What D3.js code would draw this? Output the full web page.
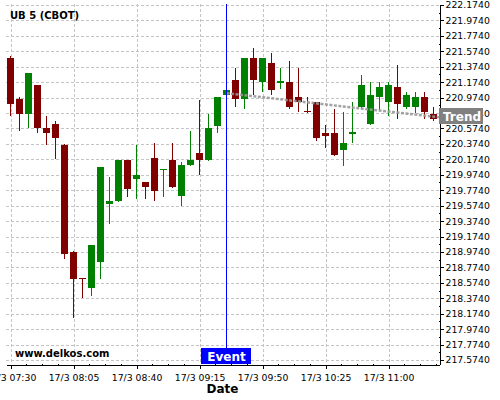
<!DOCTYPE html>
<html><head><meta charset="utf-8">
<script src="https://cdn.jsdelivr.net/npm/d3@7"></script>
<style>body{margin:0;background:#fff}svg{display:block}text{font-family:"DejaVu Sans",sans-serif}</style>
</head><body><svg id="c" width="500" height="400"></svg>
<script>
const title = "UB 5 (CBOT)";
const watermark = "www.delkos.com";
const day = "17/3";
const times = ["07:30","07:35","07:40","07:45","07:50","07:55","08:00","08:05","08:10","08:15","08:20","08:25",
  "08:30","08:35","08:40","08:45","08:50","08:55","09:00","09:05","09:10","09:15","09:20","09:25",
  "09:30","09:35","09:40","09:45","09:50","09:55","10:00","10:05","10:10","10:15","10:20","10:25",
  "10:30","10:35","10:40","10:45","10:50","10:55","11:00","11:05","11:10","11:15","11:20","11:25"];
const opens = [221.487,220.956,220.766,221.137,220.576,220.632,220.360,218.973,218.633,218.511,218.848,219.595,
  219.634,220.166,219.919,219.880,220.191,220.036,220.166,219.703,220.105,220.256,220.169,220.610,
  221.012,221.202,220.960,221.487,221.180,221.422,221.176,221.176,220.982,220.800,220.917,220.515,
  220.515,220.299,220.519,220.852,220.632,220.982,220.917,221.111,220.852,220.852,220.982,220.762];
const highs = [221.513,220.982,221.293,221.137,220.732,220.667,220.377,218.990,218.637,219.064,220.075,219.941,
  220.166,220.166,220.356,219.880,220.382,220.045,220.382,220.136,220.537,220.947,220.758,220.982,
  221.073,221.354,221.487,221.613,221.487,221.548,221.354,221.444,221.354,220.978,220.917,220.623,
  220.823,220.784,220.913,221.267,221.176,221.176,221.176,221.397,221.047,221.047,221.047,220.852];
const lows = [220.736,220.541,220.576,220.515,220.356,220.182,218.879,218.114,218.373,218.403,218.620,219.340,
  219.621,219.690,219.656,219.656,219.630,219.690,219.807,219.566,220.092,219.971,220.156,220.515,
  221.012,220.848,220.823,221.008,221.043,221.008,221.086,220.823,220.784,220.778,220.408,220.317,
  220.217,220.092,220.382,220.823,220.619,220.813,220.736,220.697,220.826,220.775,220.697,220.671];
const closes = [220.895,220.766,221.293,220.584,220.519,220.454,218.951,218.627,218.627,219.064,220.075,219.634,
  220.166,219.790,219.971,219.820,219.768,220.045,219.820,220.101,220.166,220.169,220.580,220.982,
  221.073,220.960,221.487,221.206,221.487,221.077,221.185,220.856,220.921,220.797,220.454,220.480,
  220.230,220.382,220.524,221.137,221.008,221.111,221.137,220.891,221.008,220.982,220.788,220.697];
const xTicks = ["07:30","08:05","08:40","09:15","09:50","10:25","11:00"];
const yTicks = [217.574,217.774,217.974,218.174,218.374,218.574,218.774,218.974,219.174,219.374,219.574,219.774,
  219.974,220.174,220.374,220.574,220.774,220.974,221.174,221.374,221.574,221.774,221.974,222.174];
const eventTime = "09:30";
const eventLabel = "Event";
const trendStart = ["09:30", 221.031];
const trendEnd = ["11:28", 220.719];
const trendLabel = "Trend";
const xTitle = "Date";
const xDomain = ["07:27:30", "11:28:00"];
const yDomain = [217.522, 222.187];

const parse = d3.timeParse("%Y-%m-%d %H:%M:%S");
const T = s => parse("2016-03-17 " + (s.length === 5 ? s + ":00" : s));

const L = 6, R = 439, TOP = 4, B = 364;
const svg = d3.select("#c");
svg.append("rect").attr("width",500).attr("height",400).attr("fill","#fff");

const x = d3.scaleTime().domain(xDomain.map(T)).range([L, R]);
const y = d3.scaleLinear().domain(yDomain).range([B, TOP]);

// grid
const grid = svg.append("g").attr("stroke","#c4c4c4").attr("stroke-dasharray","3,2").attr("shape-rendering","crispEdges");
grid.selectAll(".h").data(yTicks).join("line")
  .attr("x1",L).attr("x2",R).attr("y1",d=>Math.round(y(d))+0.5).attr("y2",d=>Math.round(y(d))+0.5);
grid.selectAll(".v").data(xTicks).join("line")
  .attr("y1",TOP).attr("y2",B).attr("x1",d=>Math.round(x(T(d)))+0.5).attr("x2",d=>Math.round(x(T(d)))+0.5);

// candles
const data = times.map((t,i)=>({t:T(t),o:opens[i],h:highs[i],l:lows[i],c:closes[i]}));
const cg = svg.append("g").attr("shape-rendering","crispEdges");
const col = d => d.c >= d.o ? "#008000" : "#800000";
cg.selectAll(".w").data(data).join("line")
  .attr("x1",d=>Math.floor(x(d.t))+0.5).attr("x2",d=>Math.floor(x(d.t))+0.5)
  .attr("y1",d=>y(d.h)).attr("y2",d=>y(d.l)).attr("stroke",col).attr("stroke-width",1);
cg.selectAll(".b").data(data).join("rect")
  .attr("x",d=>Math.floor(x(d.t))-3).attr("width",7)
  .attr("y",d=>y(Math.max(d.o,d.c)))
  .attr("height",d=>Math.max(1.2, Math.abs(y(d.o)-y(d.c))))
  .attr("fill",col);

// trend line
svg.append("line")
  .attr("x1",x(T(trendStart[0]))).attr("y1",y(trendStart[1]))
  .attr("x2",x(T(trendEnd[0]))).attr("y2",y(trendEnd[1]))
  .attr("stroke","#9a9a9a").attr("stroke-width",2.5).attr("stroke-dasharray","3,1.5").attr("opacity",0.9);

// event line
const ex = Math.floor(x(T(eventTime)))+0.5;
svg.append("line").attr("x1",ex).attr("x2",ex).attr("y1",TOP).attr("y2",348)
  .attr("stroke","#0000ff").attr("stroke-width",1).attr("shape-rendering","crispEdges");

// axes
const yMinor = [];
yTicks.forEach(v=>{ yMinor.push(v+0.1); });
const yAxisMinor = d3.axisRight(y).tickValues(yMinor.filter(v=>v<yDomain[1])).tickSize(2).tickSizeOuter(0).tickFormat("");
svg.append("g").attr("transform",`translate(${R},0)`).call(yAxisMinor).call(g=>g.select(".domain").remove())
  .attr("shape-rendering","crispEdges");
const yAxis = d3.axisRight(y).tickValues(yTicks).tickSize(4).tickPadding(2).tickSizeOuter(0).tickFormat(d3.format(".4f"));
const ya = svg.append("g").attr("transform",`translate(${R+0.5},0)`).call(yAxis).attr("shape-rendering","crispEdges");
ya.selectAll("text").attr("font-size","9.3px").attr("font-family","DejaVu Sans").attr("fill","#000");
ya.selectAll("line").attr("stroke","#000");
ya.select(".domain").attr("stroke","#000");

const xMajor = xTicks.map(T);
const xMinor = [];
const step = 35*60000/4;
xMajor.forEach(t=>{ for(let k=1;k<4;k++){ const m=new Date(+t+k*step); if(m<=x.domain()[1]) xMinor.push(m);} });
svg.append("g").attr("transform",`translate(0,${B})`)
  .call(d3.axisBottom(x).tickValues(xMinor).tickSize(2).tickSizeOuter(0).tickFormat(""))
  .call(g=>g.select(".domain").remove()).attr("shape-rendering","crispEdges");
const xAxis = d3.axisBottom(x).tickValues(xMajor).tickSize(4).tickSizeOuter(0)
  .tickFormat((d,i)=>day+" "+xTicks[i]);
const xa = svg.append("g").attr("transform",`translate(0,${B+0.5})`).call(xAxis).attr("shape-rendering","crispEdges");
xa.selectAll("text").attr("font-size","9.3px").attr("font-family","DejaVu Sans").attr("fill","#000")
  .attr("dy",null).attr("y",16);
xa.selectAll("line").attr("stroke","#000");
xa.select(".domain").attr("stroke","#000");

// trend label
const ty = y(trendEnd[1]);
svg.append("rect").attr("x",R).attr("y",Math.round(ty-9)).attr("width",44).attr("height",16).attr("fill","#808080");
svg.append("text").attr("x",R+4).attr("y",Math.round(ty-9)+12.5).attr("fill","#fff")
  .attr("font-size","12px").attr("font-weight","bold").text(trendLabel);

// event label
svg.append("rect").attr("x",ex-25.5).attr("y",348).attr("width",50).attr("height",16).attr("fill","#0000ff");
svg.append("text").attr("x",ex).attr("y",361).attr("text-anchor","middle").attr("fill","#fff")
  .attr("font-size","12px").attr("font-weight","bold").text(eventLabel);

// texts
svg.append("text").attr("x",10).attr("y",19).attr("font-size","10px").attr("font-weight","bold").text(title);
svg.append("text").attr("x",15).attr("y",356.5).attr("font-size","10px").attr("font-weight","bold").text(watermark);
svg.append("text").attr("x",(L+R)/2).attr("y",393).attr("text-anchor","middle")
  .attr("font-size","12px").attr("font-weight","bold").text(xTitle);
</script></body></html>
